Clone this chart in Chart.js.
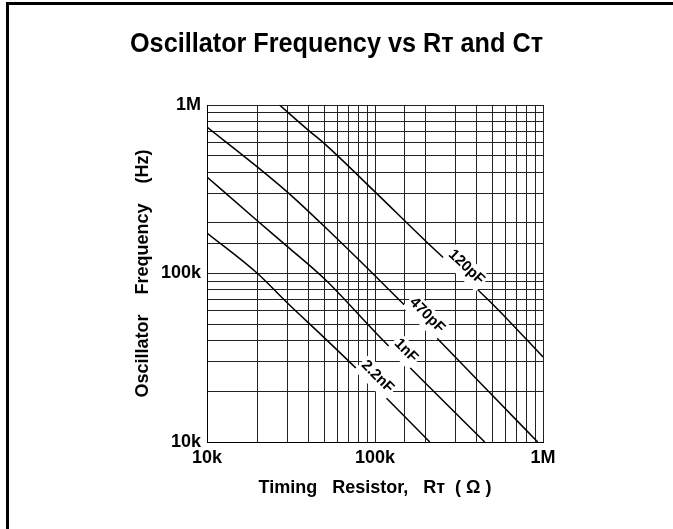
<!DOCTYPE html>
<html>
<head>
<meta charset="utf-8">
<script src="https://cdn.jsdelivr.net/npm/chart.js@4.4.1/dist/chart.umd.min.js"></script>
<style>
  html, body { margin: 0; padding: 0; background: #fff; }
  #wrap { position: relative; width: 673px; height: 529px; overflow: hidden; }
  #frame { position: absolute; left: 6px; top: 2px; width: 700px; height: 600px;
           border-left: 3px solid #000; border-top: 3px solid #000; }
  canvas { position: absolute; left: 0; top: 0; }
</style>
</head>
<body>
<div id="wrap">
  <canvas id="canvas" width="673" height="529"></canvas>
  <div id="frame"></div>
</div>
<script>
  // timing resistor (ohm) and oscillator frequency (Hz) for each timing capacitor
  const r120 = [27000, 40000, 50000, 100000, 200000, 500000, 1000000];
  const f120 = [1000000, 710000, 590000, 305000, 156000, 66000, 32000];

  const r470 = [10000, 20000, 30000, 50000, 100000, 200000, 464000, 930000];
  const f470 = [740000, 428000, 305000, 190000, 97000, 48500, 20400, 10000];

  const r1n = [10000, 20000, 30000, 50000, 100000, 200000, 450000];
  const f1n = [374000, 205000, 145000, 93000, 45000, 22300, 10000];

  const r22n = [10000, 20000, 30000, 50000, 100000, 212000];
  const f22n = [174000, 100000, 67000, 41500, 21300, 10000];

  const capLabels = ["120pF", "470pF", "1nF", "2.2nF"];
  // resistance where each curve label sits
  const labelAt = [322000, 187000, 140000, 95000];

  const decadeValues = [10000, 100000, 1000000];
  const decadeNames = ["10k", "100k", "1M"];

  const family = "'Liberation Sans', Arial, Helvetica, 'DejaVu Sans', sans-serif";
  const labelLift = 9;

  function toPoints(rs, fs) {
    return rs.map((r, i) => ({ x: r, y: fs[i] }));
  }

  const curves = [toPoints(r120, f120), toPoints(r470, f470), toPoints(r1n, f1n), toPoints(r22n, f22n)];

  function tickLabel(value) {
    const i = decadeValues.findIndex(v => Math.abs(v - value) < 1);
    return i >= 0 ? decadeNames[i] : "";
  }

  // log-log lookup along a curve, only used to place the labels
  function freqAt(pts, r) {
    for (let i = 0; i < pts.length - 1; i++) {
      const a = pts[i], b = pts[i + 1];
      if (r >= a.x && r <= b.x) {
        const t = (Math.log(r) - Math.log(a.x)) / (Math.log(b.x) - Math.log(a.x));
        return Math.exp(Math.log(a.y) + t * (Math.log(b.y) - Math.log(a.y)));
      }
    }
    return pts[pts.length - 1].y;
  }

  const curveLabelPlugin = {
    id: "curveLabels",
    afterDatasetsDraw(chart) {
      const { ctx, scales: { x, y } } = chart;
      ctx.save();
      ctx.font = "bold 15px " + family;
      ctx.textAlign = "center";
      ctx.textBaseline = "middle";
      chart.data.datasets.forEach((ds, i) => {
        const r = labelAt[i];
        const px = x.getPixelForValue(r);
        const py = y.getPixelForValue(freqAt(ds.data, r));
        const x0 = x.getPixelForValue(r / 1.2), x1 = x.getPixelForValue(r * 1.2);
        const y0 = y.getPixelForValue(freqAt(ds.data, r / 1.2)), y1 = y.getPixelForValue(freqAt(ds.data, r * 1.2));
        const ang = Math.atan2(y1 - y0, x1 - x0);
        const w = ctx.measureText(ds.label).width;
        ctx.save();
        ctx.translate(px, py);
        ctx.rotate(ang);
        ctx.fillStyle = "#fff";
        ctx.fillRect(-w / 2 - 2, -labelLift - 9, w + 4, labelLift + 12);
        ctx.fillStyle = "#000";
        ctx.fillText(ds.label, 0, -labelLift);
        ctx.restore();
      });
      ctx.restore();
    }
  };

  const tickFont = { family: family, size: 18, weight: "bold" };
  const titleFont = { family: family, size: 18, weight: "bold", lineHeight: 1.2 };

  new Chart(document.getElementById("canvas"), {
    type: "line",
    data: {
      datasets: curves.map((pts, i) => ({
        label: capLabels[i],
        data: pts,
        borderColor: "#000",
        borderWidth: 1.5,
        pointRadius: 0,
        cubicInterpolationMode: "monotone",
        fill: false
      }))
    },
    options: {
      responsive: false,
      animation: false,
      layout: { padding: { left: 130, right: 130, top: 8, bottom: 0 } },
      plugins: {
        legend: { display: false },
        tooltip: { enabled: false },
        title: {
          display: true,
          text: "Oscillator Frequency vs Rᴛ and Cᴛ",
          color: "#000",
          font: { family: family, size: 27, weight: "bold", lineHeight: 1.2 },
          padding: { top: 20.8, bottom: 43.8 }
        }
      },
      scales: {
        x: {
          type: "logarithmic",
          min: 10000,
          max: 1000000,
          grid: { color: "#222", lineWidth: 1, drawTicks: false },
          border: { color: "#000", width: 1 },
          ticks: { autoSkip: false, maxRotation: 0, minRotation: 0, padding: 5, color: "#000", font: tickFont, callback: tickLabel },
          title: { display: true, text: "Timing   Resistor,   Rᴛ  ( Ω )", color: "#000", font: titleFont, padding: { top: 0, bottom: 30.2 } },
          afterFit(scale) { scale.height = 87; }
        },
        y: {
          type: "logarithmic",
          min: 10000,
          max: 1000000,
          grid: { color: "#222", lineWidth: 1, drawTicks: false },
          border: { color: "#000", width: 1 },
          ticks: { autoSkip: false, padding: 6, color: "#000", font: tickFont, callback: tickLabel },
          title: { display: true, text: "Oscillator    Frequency    (Hz)", color: "#000", font: titleFont, padding: { top: 2.2, bottom: 0 } },
          afterFit(scale) { scale.width = 77; }
        }
      }
    },
    plugins: [curveLabelPlugin]
  });
</script>
</body>
</html>
